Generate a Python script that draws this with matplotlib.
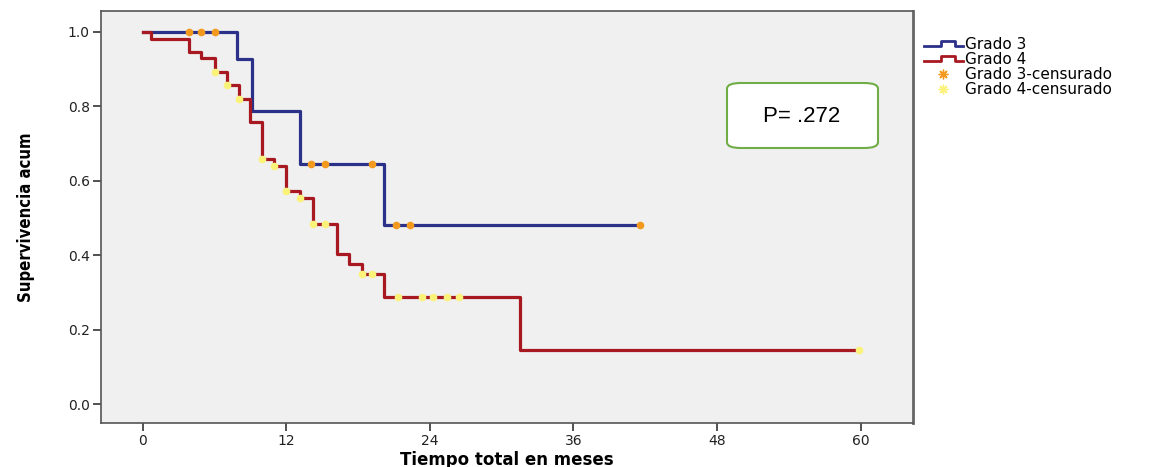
import matplotlib.pyplot as plt
import numpy as np
from matplotlib.lines import Line2D
from matplotlib.patches import FancyBboxPatch
from matplotlib.legend_handler import HandlerLine2D

# Grado 3 (step curve + censored times)
g3_t = [0, 7.9, 9.1, 13.1, 20.2, 41.6]
g3_s = [1.0, 0.927, 0.788, 0.645, 0.481, 0.481]
g3_cens = [3.9, 4.9, 6.0, 14.1, 15.2, 19.2, 21.2, 22.3, 41.6]

# Grado 4
g4_t = [0, 0.7, 3.9, 4.9, 6.0, 7.0, 8.0, 9.0, 10.0, 11.0, 12.0, 13.1, 14.2,
        16.2, 17.2, 18.3, 20.2, 31.5, 59.9]
g4_s = [1.0, 0.98, 0.946, 0.93, 0.893, 0.857, 0.819, 0.758, 0.659, 0.640,
        0.573, 0.553, 0.484, 0.403, 0.376, 0.349, 0.287, 0.145, 0.145]
g4_cens = [6.0, 7.0, 8.0, 10.0, 11.0, 12.0, 13.1, 14.2, 15.2, 18.3, 19.2,
           21.3, 23.3, 24.3, 25.4, 26.4, 59.9]

xticks = [0, 12, 24, 36, 48, 60]
yticks = [0.0, 0.2, 0.4, 0.6, 0.8, 1.0]
p_text = "P= .272"

blue = "#2b3088"
red = "#a81820"
orange = "#f39a1e"
yellow = "#fbf27a"


def surv_at(times, ts, ss):
    idx = np.searchsorted(ts, times, side="right") - 1
    return np.asarray(ss)[idx]


class StepHandler(HandlerLine2D):
    # little step shape like the SPSS legend
    def create_artists(self, legend, orig, xd, yd, w, h, fontsize, trans):
        xs = [-xd, -xd + w * 0.45, -xd + w * 0.45, -xd + w * 0.8,
              -xd + w * 0.8, -xd + w]
        y0 = -yd + h * 0.3
        y1 = -yd + h * 0.75
        ys = [y0, y0, y1, y1, y0, y0]
        ln = Line2D(xs, ys, color=orig.get_color(), lw=orig.get_linewidth(),
                    transform=trans)
        return [ln]


fig = plt.figure(figsize=(11.55, 4.67), dpi=100)
ax = fig.add_axes([0.0874, 0.0942, 0.7032, 0.8822])
ax.set_facecolor("#f0f0f0")

ax.plot(g3_t, g3_s, drawstyle="steps-post", color=blue, lw=2.3, zorder=3)
ax.plot(g4_t, g4_s, drawstyle="steps-post", color=red, lw=2.3, zorder=3)
ax.plot(g3_cens, surv_at(g3_cens, g3_t, g3_s), "o", color=orange, ms=4.5,
        mec=orange, zorder=4)
ax.plot(g4_cens, surv_at(g4_cens, g4_t, g4_s), "o", color=yellow, ms=4.5,
        mec=yellow, zorder=4)

ax.set_xlim(-3.5, 64.4)
ax.set_ylim(-0.051, 1.056)
ax.set_xticks(xticks)
ax.set_yticks(yticks)
ax.set_yticklabels(["%.1f" % v for v in yticks])
ax.tick_params(direction="out", length=6, width=1.2, color="#333333",
               labelsize=10, labelcolor="#222222", pad=2)
for s in ax.spines.values():
    s.set_color("#555555")
    s.set_linewidth(1.2)
ax.spines["right"].set_linewidth(2)
ax.spines["right"].set_color("#666666")

ax.set_xlabel("Tiempo total en meses", fontsize=12, fontweight="bold",
              labelpad=2)
ax.set_ylabel("Supervivencia acum", fontsize=12, fontweight="bold",
              fontstretch="condensed", labelpad=24)

handles = [
    Line2D([], [], color=blue, lw=2),
    Line2D([], [], color=red, lw=2),
    Line2D([], [], ls="none", marker=(8, 2, 0), color=orange, ms=7),
    Line2D([], [], ls="none", marker=(8, 2, 0), color=yellow, ms=7),
]
labels = ["Grado 3", "Grado 4", "Grado 3-censurado", "Grado 4-censurado"]
fig.legend(handles, labels, loc="upper left", bbox_to_anchor=(0.793, 0.937),
           frameon=False, fontsize=11, handlelength=2.6, handletextpad=0.1,
           labelspacing=0.0, borderpad=0,
           handler_map={handles[0]: StepHandler(), handles[1]: StepHandler()})

box = FancyBboxPatch((727 / 1155, 1 - 148 / 467), 151 / 1155, 65 / 467,
                     boxstyle="round,pad=0,rounding_size=0.012",
                     transform=fig.transFigure, facecolor="white",
                     edgecolor="#70ad47", lw=1.5, zorder=5)
fig.patches.append(box)
fig.text(802 / 1155, 1 - 116 / 467, p_text, ha="center", va="center",
         fontsize=16, family="Liberation Sans", zorder=6)

fig.savefig("out.png", dpi=100)
